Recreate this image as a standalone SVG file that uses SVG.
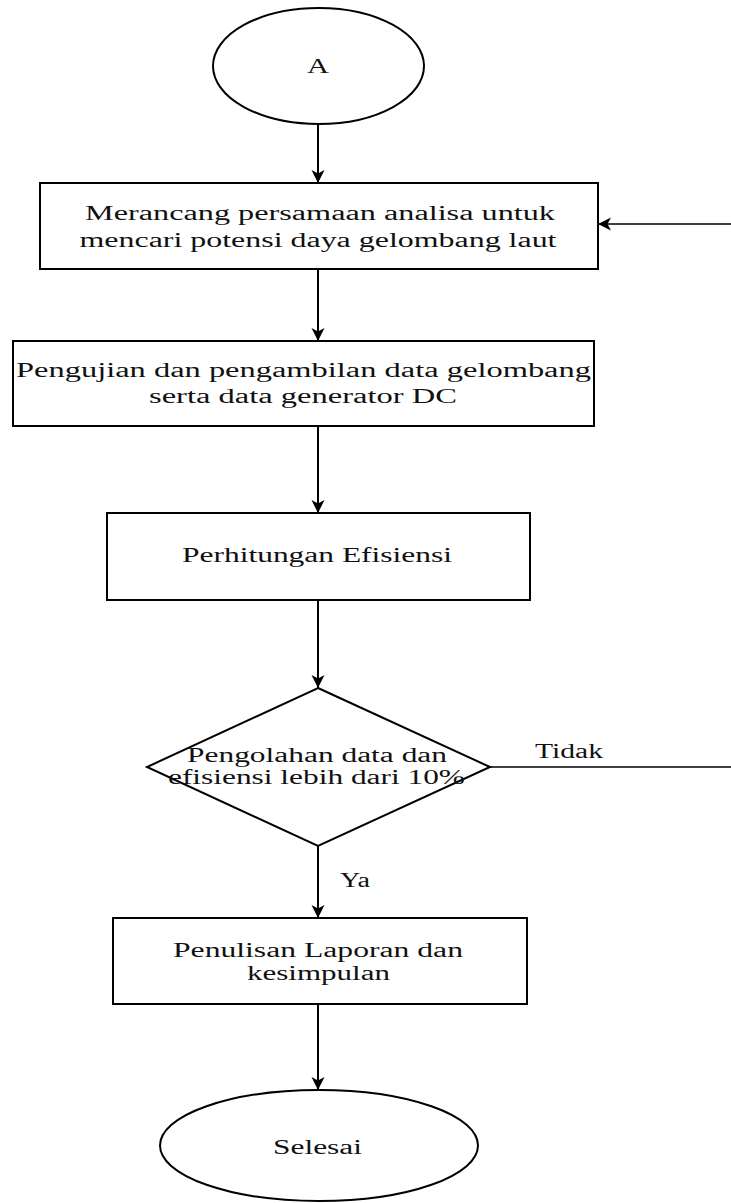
<svg xmlns="http://www.w3.org/2000/svg" width="731" height="1203" viewBox="0 0 731 1203">
<style>
.shape{fill:#fff;stroke:#000;stroke-width:2}
.edge{fill:none;stroke:#000;stroke-width:2}
.thin{fill:none;stroke:#000;stroke-width:1.4}
text{font-family:"Liberation Serif","Times New Roman",serif;font-size:20.5px;fill:#111;text-anchor:middle}
.lbl{text-anchor:start}
</style>
<defs>
<marker id="arr" markerUnits="userSpaceOnUse" markerWidth="14" markerHeight="14" refX="13" refY="7" orient="auto">
<path d="M0,0.5 L13,7 L0,13.5 L3.5,7 Z" fill="#000"/>
</marker>
</defs>
<rect width="731" height="1203" fill="#fff"/>
<g id="connectors">
<line class="edge" x1="318" y1="124" x2="318" y2="183" marker-end="url(#arr)"/>
<line class="thin" x1="731" y1="224" x2="598" y2="224" marker-end="url(#arr)"/>
<line class="edge" x1="318" y1="269" x2="318" y2="341" marker-end="url(#arr)"/>
<line class="edge" x1="318" y1="426" x2="318" y2="513" marker-end="url(#arr)"/>
<line class="edge" x1="318" y1="600" x2="318" y2="688" marker-end="url(#arr)"/>
<line class="thin" x1="490" y1="767" x2="731" y2="767"/>
<text class="lbl" x="535" y="758" textLength="68" lengthAdjust="spacingAndGlyphs">Tidak</text>
<line class="edge" x1="318" y1="846" x2="318" y2="918" marker-end="url(#arr)"/>
<text class="lbl" x="340" y="887" textLength="30" lengthAdjust="spacingAndGlyphs">Ya</text>
<line class="edge" x1="318" y1="1004" x2="318" y2="1090" marker-end="url(#arr)"/>
</g>
<g id="start">
<ellipse class="shape" cx="318.5" cy="66" rx="105.5" ry="58" stroke-width="1.6"/>
<text x="318" y="73" textLength="22" lengthAdjust="spacingAndGlyphs">A</text>
</g>
<g id="box1">
<rect class="shape" x="40" y="183" width="558" height="86"/>
<text x="320" y="220" textLength="470" lengthAdjust="spacingAndGlyphs">Merancang persamaan analisa untuk</text>
<text x="318" y="247" textLength="477" lengthAdjust="spacingAndGlyphs">mencari potensi daya gelombang laut</text>
</g>
<g id="box2">
<rect class="shape" x="13" y="341" width="581" height="85"/>
<text x="303.5" y="377" textLength="575" lengthAdjust="spacingAndGlyphs">Pengujian dan pengambilan data gelombang</text>
<text x="303" y="403" textLength="308" lengthAdjust="spacingAndGlyphs">serta data generator DC</text>
</g>
<g id="box3">
<rect class="shape" x="107" y="513" width="423" height="87"/>
<text x="317" y="562" textLength="270" lengthAdjust="spacingAndGlyphs">Perhitungan Efisiensi</text>
</g>
<g id="decision">
<polygon class="shape" points="318,688 490,767 318,846 147,767" stroke-width="1.6"/>
<text x="317" y="762" textLength="260" lengthAdjust="spacingAndGlyphs">Pengolahan data dan</text>
<text x="316.5" y="784" textLength="297" lengthAdjust="spacingAndGlyphs">efisiensi lebih dari 10%</text>
</g>
<g id="box4">
<rect class="shape" x="113" y="918" width="414" height="86"/>
<text x="318" y="957" textLength="290" lengthAdjust="spacingAndGlyphs">Penulisan Laporan dan</text>
<text x="318.5" y="980" textLength="143" lengthAdjust="spacingAndGlyphs">kesimpulan</text>
</g>
<g id="end">
<ellipse class="shape" cx="319" cy="1145.5" rx="159" ry="55.5" stroke-width="1.6"/>
<text x="317.5" y="1154" textLength="89" lengthAdjust="spacingAndGlyphs">Selesai</text>
</g>
</svg>
